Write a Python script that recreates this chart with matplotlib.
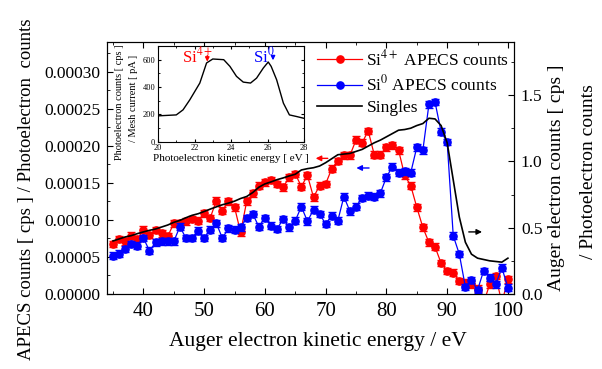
import matplotlib
matplotlib.use("Agg")
import matplotlib.pyplot as plt
from matplotlib.lines import Line2D
from matplotlib.ticker import MultipleLocator, FormatStrFormatter

plt.rcParams["font.family"] = ["Liberation Serif", "DejaVu Serif"]
plt.rcParams["mathtext.fontset"] = "stix"

# Auger electron kinetic energy (eV), one point per eV
energy = list(range(35, 101))

si4_apecs = [
    6.73e-5, 7.41e-5, 7.09e-5, 7.86e-5, 7.41e-5, 8.67e-5, 7.95e-5, 8.63e-5, 8.17e-5, 7.77e-5,
    9.53e-5, 9.53e-5, 9.80e-5, 1.012e-4, 9.89e-5, 1.088e-4, 1.026e-4, 1.26e-4, 1.125e-4, 1.251e-4,
    1.17e-4, 8.31e-5, 1.25e-4, 1.36e-4, 1.463e-4, 1.508e-4, 1.54e-4, 1.486e-4, 1.44e-4, 1.576e-4,
    1.62e-4, 1.45e-4, 1.60e-4, 1.305e-4, 1.463e-4, 1.486e-4, 1.69e-4, 1.793e-4, 1.87e-4, 1.87e-4,
    2.08e-4, 2.04e-4, 2.20e-4, 1.88e-4, 1.88e-4, 1.98e-4, 2.005e-4, 1.94e-4, 1.60e-4, 1.463e-4,
    1.17e-4, 8.98e-5, 6.95e-5, 6.37e-5, 4.16e-5, 3.12e-5, 2.89e-5, 1.76e-5, 1.53e-5, 1.31e-5,
    7.0e-6, -1.2e-5, 1.31e-5, 2.44e-5, -1.2e-5, 1.99e-5,
]

si0_apecs = [
    5.15e-5, 5.46e-5, 6.05e-5, 6.73e-5, 6.50e-5, 7.54e-5, 5.83e-5, 6.95e-5, 7.09e-5, 7.09e-5,
    7.09e-5, 9.08e-5, 7.54e-5, 7.54e-5, 8.54e-5, 7.54e-5, 8.67e-5, 9.53e-5, 7.54e-5, 8.85e-5,
    8.67e-5, 8.98e-5, 1.026e-4, 1.08e-4, 9.08e-5, 1.026e-4, 9.21e-5, 8.77e-5, 1.012e-4, 8.98e-5,
    9.89e-5, 1.179e-4, 9.80e-5, 1.138e-4, 1.08e-4, 9.44e-5, 1.057e-4, 9.89e-5, 1.314e-4, 1.115e-4,
    1.179e-4, 1.297e-4, 1.328e-4, 1.314e-4, 1.36e-4, 1.576e-4, 1.72e-4, 1.635e-4, 1.653e-4, 1.635e-4,
    1.98e-4, 1.94e-4, 2.56e-4, 2.59e-4, 2.19e-4, 2.05e-4, 7.86e-5, 5.38e-5, 9.5e-6, 1.9e-5,
    5.4e-6, 3.12e-5, 2.21e-5, 1.31e-5, 3.56e-5, 8.5e-6,
]

singles = [
    0.40, 0.415, 0.43, 0.44, 0.455, 0.468, 0.48, 0.49, 0.505, 0.52,
    0.54, 0.555, 0.575, 0.593, 0.605, 0.622, 0.64, 0.657, 0.673, 0.685,
    0.70, 0.72, 0.735, 0.765, 0.805, 0.83, 0.845, 0.862, 0.875, 0.89,
    0.903, 0.935, 0.945, 0.952, 0.965, 0.99, 1.02, 1.05, 1.055, 1.06,
    1.075, 1.09, 1.115, 1.14, 1.16, 1.185, 1.21, 1.235, 1.24, 1.25,
    1.27, 1.285, 1.325, 1.32, 1.27, 1.14, 0.86, 0.58, 0.39, 0.30,
    0.27, 0.26, 0.25, 0.245, 0.24, 0.27,
]

# rough error bar half-widths read from the caps
si4_err = 4.5e-6
si0_err = 4.5e-6

# inset: photoelectron spectrum
pe_energy = [20.0, 21.0, 21.37, 21.74, 22.29, 22.66, 23.0, 23.6, 23.94, 24.3, 24.67,
             25.07, 25.4, 25.77, 26.04, 26.2, 26.5, 26.87, 27.2, 27.6, 28.0]
pe_counts = [189, 196, 233, 306, 429, 576, 605, 600, 551, 478, 436,
             429, 465, 539, 583, 551, 453, 282, 196, 184, 171]

fig = plt.figure(figsize=(6.02, 3.69), dpi=100)
ax = fig.add_axes([0.1777, 0.2033, 0.6761, 0.6829])

ax.errorbar(energy, si4_apecs, yerr=si4_err, color="#ff0000", marker="o", ms=5.2,
            lw=0.9, elinewidth=0.9, capsize=3, zorder=3)
ax.errorbar(energy, si0_apecs, yerr=si0_err, color="#0000ff", marker="o", ms=5.2,
            lw=0.9, elinewidth=0.9, capsize=3, zorder=4)

ax.set_xlim(34, 101)
ax.set_ylim(0, 0.00034)
ax.xaxis.set_major_locator(MultipleLocator(10))
ax.xaxis.set_minor_locator(MultipleLocator(5))
ax.yaxis.set_major_locator(MultipleLocator(0.00005))
ax.yaxis.set_minor_locator(MultipleLocator(0.000025))
ax.yaxis.set_major_formatter(FormatStrFormatter("%.5f"))
ax.tick_params(which="both", direction="in", top=True)
ax.tick_params(which="major", length=4)
ax.tick_params(which="minor", length=2.5)
ax.tick_params(axis="x", labelsize=15, pad=6)
ax.tick_params(axis="y", labelsize=12.5, pad=5)

ax.set_xlabel("Auger electron kinetic energy / eV", fontsize=15.5)
ax.xaxis.set_label_coords(0.518, -0.15)
ax.set_ylabel("APECS counts [ cps ] / Photoelectron  counts", fontsize=13.5)
ax.yaxis.set_label_coords(-0.176, 0.415)

ax2 = ax.twinx()
ax2.plot(energy, singles, color="black", lw=1.2)
ax2.set_ylim(0, 1.9)
ax2.yaxis.set_major_locator(MultipleLocator(0.5))
ax2.yaxis.set_minor_locator(MultipleLocator(0.25))
ax2.yaxis.set_major_formatter(FormatStrFormatter("%.1f"))
ax2.tick_params(which="both", direction="in", labelsize=12.5, pad=5)
ax2.tick_params(which="major", length=4)
ax2.tick_params(which="minor", length=2.5)

fig.text(0.925, 0.519, "Auger electron counts [ cps ]", rotation=90,
         ha="center", va="center", fontsize=14)
fig.text(0.977, 0.534, "/ Photoelectron counts", rotation=90,
         ha="center", va="center", fontsize=14)

# direction arrows
ax.annotate("", xy=(67.9, 1.83e-4), xytext=(70.8, 1.83e-4),
            arrowprops=dict(arrowstyle="-|>", color="#ff0000", lw=1.0, mutation_scale=8))
ax.annotate("", xy=(74.6, 1.70e-4), xytext=(77.6, 1.70e-4),
            arrowprops=dict(arrowstyle="-|>", color="#0000ff", lw=1.0, mutation_scale=8))
ax2.annotate("", xy=(96.2, 0.468), xytext=(93.1, 0.468),
             arrowprops=dict(arrowstyle="-|>", color="black", lw=1.0, mutation_scale=8))

handles = [
    Line2D([], [], color="#ff0000", marker="o", ms=5.2, lw=0.9),
    Line2D([], [], color="#0000ff", marker="o", ms=5.2, lw=0.9),
    Line2D([], [], color="black", lw=1.2),
]
labels = [r"Si$^{4+}$ APECS counts", r"Si$^{0}$ APECS counts", "Singles"]
ax2.legend(handles, labels, loc="upper left", bbox_to_anchor=(0.515, 0.885),
           bbox_transform=fig.transFigure, frameon=False, fontsize=12.5,
           handlelength=2.6, handletextpad=0.25, labelspacing=0.3, borderaxespad=0)

# inset
axi = fig.add_axes([0.2625, 0.616, 0.2425, 0.2593])
axi.set_zorder(5)
axi.plot(pe_energy, pe_counts, color="black", lw=1.0)
axi.set_xlim(20, 28)
axi.set_ylim(0, 700)
axi.xaxis.set_major_locator(MultipleLocator(2))
axi.xaxis.set_minor_locator(MultipleLocator(1))
axi.yaxis.set_major_locator(MultipleLocator(200))
axi.yaxis.set_minor_locator(MultipleLocator(100))
axi.tick_params(which="both", direction="in", labelsize=6, pad=2, top=True, right=True)
axi.tick_params(which="major", length=2.5)
axi.tick_params(which="minor", length=1.5)
axi.set_xlabel("Photoelectron kinetic energy [ eV ]", fontsize=8, labelpad=1)
fig.text(0.199, 0.722, "Photoelectron counts [ cps ]", rotation=90,
         ha="center", va="center", fontsize=7.5)
fig.text(0.221, 0.732, "/ Mesh current [ pA ]", rotation=90,
         ha="center", va="center", fontsize=7.5)

axi.annotate("", xy=(22.7, 565), xytext=(22.7, 650),
             arrowprops=dict(arrowstyle="-|>", color="#ff0000", lw=1.0, mutation_scale=6))
axi.annotate("", xy=(26.3, 575), xytext=(26.3, 650),
             arrowprops=dict(arrowstyle="-|>", color="#0000ff", lw=1.0, mutation_scale=6))
axi.text(22.15, 625, r"Si$^{4+}$", color="#ff0000", fontsize=12, ha="center", va="center")
axi.text(25.8, 625, r"Si$^{0}$", color="#0000ff", fontsize=12, ha="center", va="center")

fig.savefig("out.png", dpi=100)
